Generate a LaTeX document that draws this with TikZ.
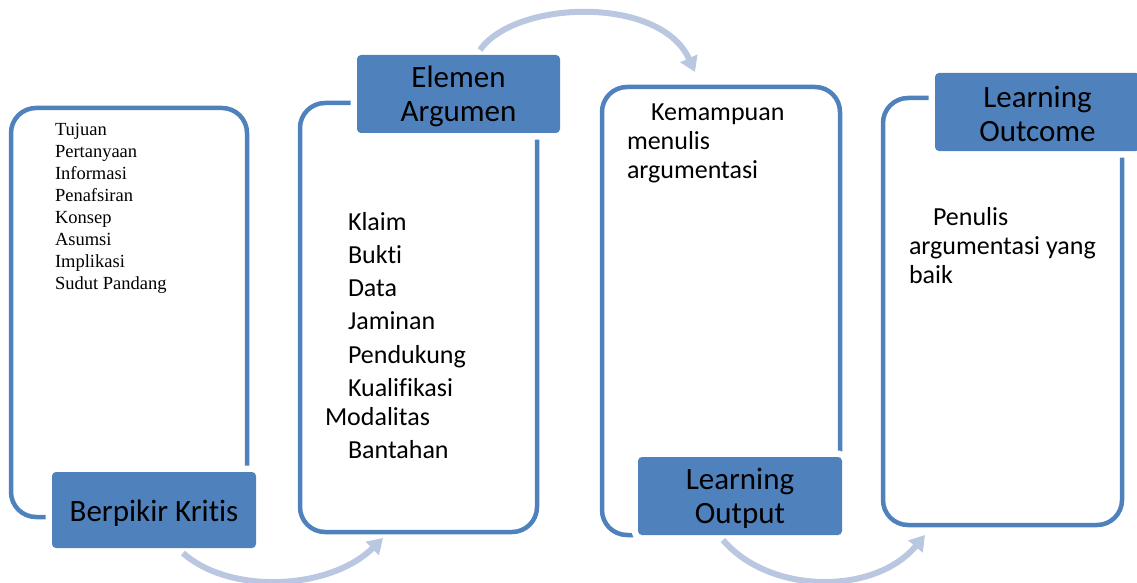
\documentclass[tikz,border=0pt]{standalone}
\usepackage{fontspec}
\setmainfont{Carlito}[Ligatures=CommonOff]
\newfontfamily\timesf{Liberation Serif}
\usetikzlibrary{arrows.meta}
\definecolor{boxblue}{RGB}{79,129,189}
\definecolor{arrowblue}{RGB}{185,199,224}
\tikzset{
  outline/.style={draw=boxblue, line width=4.5pt, rounded corners=25pt, inner sep=0pt, outer sep=0pt, anchor=north west},
  labelbox/.style={fill=boxblue, rounded corners=4pt, inner sep=0pt, outer sep=0pt, anchor=north west,
    preaction={draw=white, line width=13pt}},
  labeltext/.style={inner sep=0pt, align=center, font=\fontsize{31}{34}\selectfont, yshift=-2pt},
  flowarrow/.style={draw=arrowblue, line width=6pt, -{Triangle[length=15pt,width=18pt]}},
  bodytext/.style={inner sep=0pt, outer sep=0pt, anchor=north west, align=left}
}
\begin{document}
\begin{tikzpicture}[x=1pt,y=-1pt]
\useasboundingbox (0,0) rectangle (1137,583);
% outlines
\node[outline, minimum width=236pt, minimum height=409pt] (c1) at (11,108) {};
\node[outline, minimum width=237pt, minimum height=429pt] (c2) at (300,103) {};
\node[outline, minimum width=238pt, minimum height=448pt] (c3) at (602,87) {};
\node[outline, minimum width=239pt, minimum height=427pt] (c4) at (883,98) {};
% labels
\node[labelbox, minimum width=204pt, minimum height=76pt] (l1) at (52,472) {};
\node[labelbox, minimum width=203pt, minimum height=78pt] (l2) at (357,55) {};
\node[labelbox, minimum width=204pt, minimum height=78pt] (l3) at (638,457) {};
\node[labelbox, minimum width=205pt, minimum height=78pt] (l4) at (935,73) {};
\node[labeltext, yshift=-1pt] (l1t) at (l1.center) {Berpikir Kritis};
\node[labeltext] (l2t) at (l2.center) {Elemen\\Argumen};
\node[labeltext] (l3t) at (l3.center) {Learning\\Output};
\node[labeltext] (l4t) at (l4.center) {Learning\\Outcome};
% body texts
\node[bodytext, font=\timesf\fontsize{18.5}{22}\selectfont] (t1) at (55,123.5)
  {Tujuan\\Pertanyaan\\Informasi\\Penafsiran\\Konsep\\Asumsi\\Implikasi\\Sudut Pandang};
\node[bodytext, font=\fontsize{26}{33.3}\selectfont] (t2) at (325,212)
  {\hspace*{23pt}Klaim\\\hspace*{23pt}Bukti\\\hspace*{23pt}Data\\\hspace*{23pt}Jaminan\\\hspace*{23pt}Pendukung\\\hspace*{23pt}Kualifikasi\\[-4.3pt]Modalitas\\\hspace*{23pt}Bantahan};
\node[bodytext, font=\fontsize{26}{29}\selectfont] (t3) at (627,103.5)
  {\hspace*{24pt}Kemampuan\\menulis\\argumentasi};
\node[bodytext, font=\fontsize{26}{29}\selectfont] (t4) at (909,207)
  {\hspace*{24pt}Penulis\\argumentasi yang\\baik};
% arrows
\coordinate (a1s) at (183,553);
\coordinate (a1e) at (383,538);
\coordinate (a2s) at (480,50);
\coordinate (a2e) at (695,72);
\coordinate (a3s) at (723,540);
\coordinate (a3e) at (925,535);
\draw[flowarrow] (a1s) .. controls (230,595) and (330,590) .. (a1e);
\draw[flowarrow] (a2s) .. controls (515,0) and (660,-5) .. (a2e);
\draw[flowarrow] (a3s) .. controls (770,595) and (875,595) .. (a3e);
\end{tikzpicture}
\end{document}
